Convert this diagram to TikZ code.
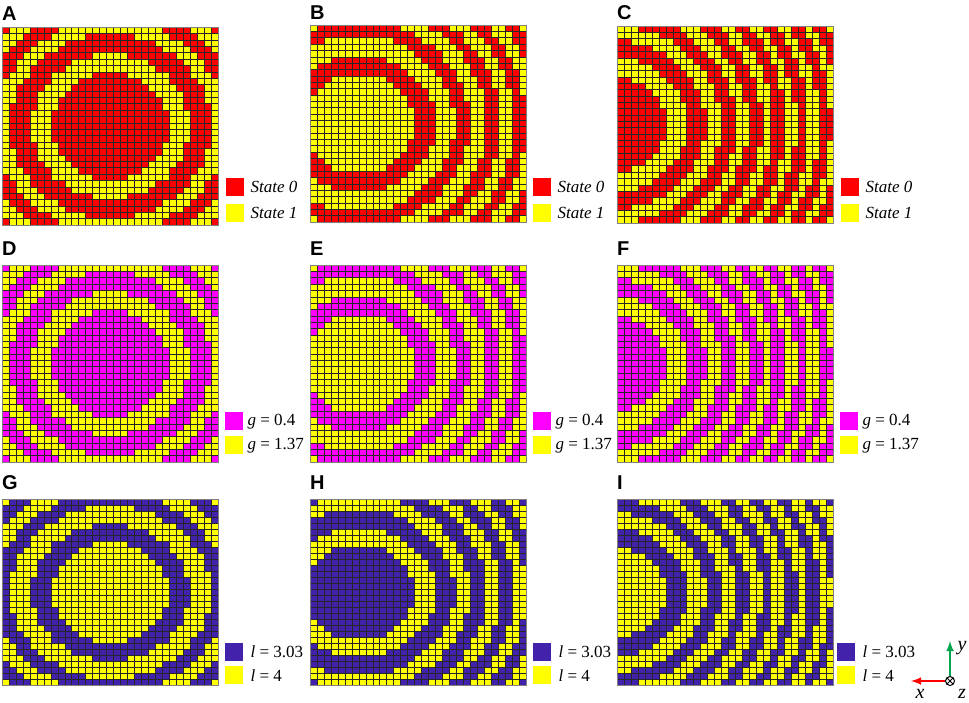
\documentclass[tikz,border=0pt]{standalone}
\usepackage{fontspec}
\setmainfont{Liberation Serif}
\setsansfont{Liberation Sans}
\usetikzlibrary{arrows}
\usetikzlibrary{calc}
\tikzset{>=latex}

\definecolor{stateRed}{RGB}{255,0,0}
\definecolor{stateYel}{RGB}{255,255,0}
\definecolor{stateMag}{RGB}{255,0,255}
\definecolor{stateBlu}{RGB}{66,34,170}
\definecolor{axisGreen}{RGB}{0,165,80}

\tikzset{
  cell/.style = {draw = black!85, line width = 0.45pt},
  panellabel/.style = {font = \sffamily\bfseries\fontsize{20}{20}\selectfont, inner sep = 0pt, anchor = west},
  legendbox/.style = {minimum width = 18pt, minimum height = 18pt, inner sep = 0pt, anchor = north west},
  legendtext/.style = {font = \fontsize{17}{17}\selectfont, anchor = west, inner sep = 0pt},
}

% #1,#2 corner, #3 ring centre column, #4 phase offset, #5 threshold,
% #6 state 0 colour, #7 state 1 colour, #8 cell height, #9 period
\newcommand{\ringpanel}[9]{
  \foreach \i in {0,...,30}{
    \foreach \j in {0,...,30}{
      \pgfmathparse{int(mod((sqrt((\i-#3)^2+(\j-15)^2+400)-20)/#9+#4,1)<#5 ? 0 : 1)}
      \ifnum\pgfmathresult=0 \def\cellcol{#6}\else\def\cellcol{#7}\fi
      \filldraw[cell, fill = \cellcol] ({#1+\i*6.97}, {#2+\j*#8}) rectangle +(6.97, #8);
    }
  }
  \draw[gray, line width = 0.6pt] (#1, #2) rectangle +(216.07, {31*#8});
}

\begin{document}
\begin{tikzpicture}[x = 1pt, y = -1pt]
\useasboundingbox[fill = white] (0, 0) rectangle (969, 702);

% first row
\ringpanel{2}{27}{15}{0}{0.55}{stateRed}{stateYel}{6.39}{3}
\ringpanel{310}{25}{6.5}{0.47}{0.47}{stateRed}{stateYel}{6.35}{2.8}
\ringpanel{617}{26}{-1}{0}{0.537}{stateRed}{stateYel}{6.35}{2.6}

% second row
\ringpanel{2}{265}{15}{0}{0.55}{stateMag}{stateYel}{6.35}{3}
\ringpanel{310}{265}{6.5}{0.47}{0.47}{stateMag}{stateYel}{6.35}{2.8}
\ringpanel{617}{265}{-1}{0}{0.537}{stateMag}{stateYel}{6.35}{2.6}

% third row
\ringpanel{2}{499}{15}{0}{0.55}{stateYel}{stateBlu}{6.0}{3}
\ringpanel{310}{499}{6.5}{0.47}{0.47}{stateYel}{stateBlu}{6.0}{2.8}
\ringpanel{617}{499}{-1}{0}{0.537}{stateYel}{stateBlu}{6.0}{2.6}

\node[panellabel] (labA) at (2, 14) {A};
\node[panellabel] (labB) at (310, 13) {B};
\node[panellabel] (labC) at (617, 13) {C};
\node[panellabel] (labD) at (2, 249) {D};
\node[panellabel] (labE) at (310, 249) {E};
\node[panellabel] (labF) at (617, 249) {F};
\node[panellabel] (labG) at (2, 483) {G};
\node[panellabel] (labH) at (310, 483) {H};
\node[panellabel] (labI) at (617, 483) {I};

% legends
\foreach \n/\x in {A/226, B/533, C/841}{
  \node[legendbox, fill = stateRed] (\n-s0) at (\x, 178) {};
  \node[legendbox, fill = stateYel] (\n-s1) at (\x, 204) {};
  \node[legendtext] (\n-t0) at ($(\n-s0.east) + (6, 0)$) {\itshape State 0};
  \node[legendtext] (\n-t1) at ($(\n-s1.east) + (6, 0)$) {\itshape State 1};
}
\foreach \n/\x in {D/225, E/533, F/840}{
  \node[legendbox, fill = stateMag] (\n-s0) at (\x, 412) {};
  \node[legendbox, fill = stateYel] (\n-s1) at (\x, 436) {};
  \node[legendtext] (\n-t0) at ($(\n-s0.east) + (4, 0)$) {\textit{g} = 0.4};
  \node[legendtext] (\n-t1) at ($(\n-s1.east) + (4, 0)$) {\textit{g} = 1.37};
}
\foreach \n/\x in {G/225, H/533, I/837}{
  \node[legendbox, fill = stateBlu] (\n-s0) at (\x, 643) {};
  \node[legendbox, fill = stateYel] (\n-s1) at (\x, 666) {};
  \node[legendtext] (\n-t0) at ($(\n-s0.east) + (7, 0)$) {\textit{l} = 3.03};
  \node[legendtext] (\n-t1) at ($(\n-s1.east) + (7, 0)$) {\textit{l} = 4};
}

% axes
\node[circle, draw, line width = 1pt, inner sep = 0pt, minimum size = 9pt,
  path picture = {\draw[line width = 0.8pt] (path picture bounding box.north west) -- (path picture bounding box.south east)
  (path picture bounding box.north east) -- (path picture bounding box.south west);}] (orig) at (950, 681) {};
\coordinate (xend) at (911, 681);
\coordinate (yend) at (950, 641);
\draw[->, red, line width = 2.4pt] (orig.west) -- (xend);
\draw[->, axisGreen, line width = 2.4pt] (orig.north) -- (yend);
\node[font = \itshape\fontsize{20}{20}\selectfont, inner sep = 0pt] (xlab) at (920, 694) {x};
\node[font = \itshape\fontsize{20}{20}\selectfont, inner sep = 0pt] (ylab) at (962, 648) {y};
\node[font = \itshape\fontsize{20}{20}\selectfont, inner sep = 0pt] (zlab) at (962, 694) {z};
\end{tikzpicture}
\end{document}
